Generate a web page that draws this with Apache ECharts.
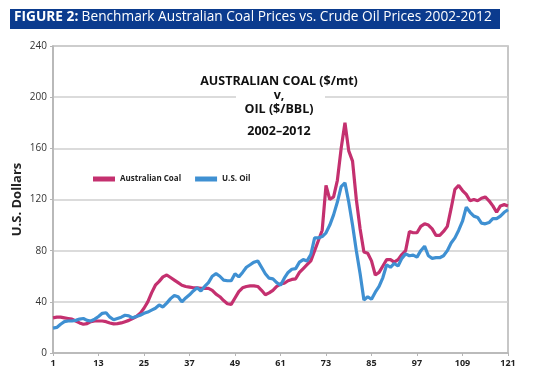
<!DOCTYPE html>
<html>
<head>
<meta charset="utf-8">
<script src="https://cdn.jsdelivr.net/npm/echarts@6/dist/echarts.min.js"></script>
<style>html,body{margin:0;padding:0;background:#fff;}#c{width:533px;height:383px;}</style>
</head>
<body>
<div id="c"></div>
<script>
var months = [];
for (var i = 1; i <= 121; i++) months.push(String(i));

var coal = [27.5,28,28,27.5,27,26.5,25,23.5,22.5,23,24.5,25,25,25,24.5,23.5,22.8,23,23.5,24.5,
25.5,27,28.5,31,35,40,47,53,56,59.5,61,59,57,55,53,52,51.5,51,51,50.5,
50.5,50.5,49,46,44,41,38.5,38,43,48,51,52,52.5,52.5,52,49,45.5,47,49,52,
54,54.5,56.5,57.5,58,63,66,69,72,80,88,96,131,120,122,135,160,180,158,150,
120,97,79,78,72,61,63,68,73,73,71,73,77,80,95,94,94,99,101,100,
97,92,92,95,99,113,128,131,127,124,119,120,119,121,122,119,115,110,115,116,115];

var oil = [19.5,20,22.5,24.5,25,25,25.5,26.5,27,25.5,25,26.5,28.5,31,31.5,28,26,27,28,29.5,
29,27.5,28.5,29.5,31,32,33.5,35,37.5,36,39,42.5,45,44,40,43,45.5,48.5,51,48.5,
52,55,60,62,60,57,56.5,56.5,62,59.5,63,67,69,71,72,67,62,58.5,58,55,
53,58.5,63,65.5,66,71,73,72,77,90,90,91,94,100,108,118,130,133,118,100,
80,62,41.5,44,42,47.5,52,59,69,67,70,68,74,77.5,76,76.5,75,80,83.5,76,
74,74.5,74.5,76,80,86,90,96,103,114,110,107,106,101.5,101,102,105,105,107,110,112];

var yTicks = [0, 40, 80, 120, 160, 200, 240];
var seriesNames = ['Australian Coal', 'U.S. Oil'];
var figTitle = 'Benchmark Australian Coal Prices vs. Crude Oil Prices 2002-2012';
var innerTitle = ['AUSTRALIAN COAL ($/mt)', 'v,', 'OIL ($/BBL)', '2002\u20132012'];

var FONT = 'Open Sans';
var chart = echarts.init(document.getElementById('c'), null, {renderer: 'canvas'});
chart.setOption({
  animation: false,
  backgroundColor: '#fff',
  grid: {left: 53, right: 25, top: 46, bottom: 30, outerBoundsMode: 'none', containLabel: false,
         show: true, borderColor: '#b5b5b5', borderWidth: 1.5, backgroundColor: 'transparent'},
  legend: {
    left: 88, top: 170, itemWidth: 22, itemHeight: 5, itemGap: 14,
    icon: 'rect',
    textStyle: {fontFamily: FONT, fontWeight: 'bold', fontSize: 8, color: '#222'},
    data: seriesNames
  },
  xAxis: {
    type: 'category', data: months, boundaryGap: false,
    axisLine: {lineStyle: {color: '#b5b5b5', width: 1.5}},
    axisTick: {interval: 11, length: 3, lineStyle: {color: '#b5b5b5'}},
    axisLabel: {interval: 11, fontFamily: FONT, fontWeight: 'bold', fontSize: 9, color: '#222', margin: 6},
    splitLine: {show: false}
  },
  yAxis: {
    type: 'value', min: yTicks[0], max: yTicks[yTicks.length - 1], interval: 40,
    name: 'U.S. Dollars', nameLocation: 'middle', nameGap: 29, nameMoveOverlap: false,
    nameTextStyle: {fontFamily: FONT, fontWeight: 'bold', fontSize: 13, color: '#222'},
    axisLine: {show: true, lineStyle: {color: '#b5b5b5', width: 1.5}},
    axisTick: {show: true, length: 3, lineStyle: {color: '#b5b5b5'}},
    axisLabel: {fontFamily: FONT, fontSize: 10, color: '#333', margin: 6},
    splitLine: {lineStyle: {color: '#cfcfcf', width: 1.5}}
  },
  series: [
    {name: seriesNames[0], type: 'line', data: coal, showSymbol: false, smooth: false, z: 3,
     lineStyle: {color: '#c4306f', width: 3.2}, itemStyle: {color: '#c4306f'}},
    {name: seriesNames[1], type: 'line', data: oil, showSymbol: false, smooth: false, z: 4,
     lineStyle: {color: '#3f90d2', width: 3.2}, itemStyle: {color: '#3f90d2'}}
  ],
  graphic: [
    {type: 'rect', left: 10, top: 9, shape: {width: 490, height: 20}, style: {fill: '#0b3b8e'}, z: 100},
    {type: 'text', left: 14, top: 10, z: 101, style: {
      text: '{b|FIGURE 2:} {n|' + figTitle + '}',
      rich: {
        b: {fontFamily: FONT, fontWeight: 'bold', fontSize: 13.7, fill: '#fff'},
        n: {fontFamily: FONT, fontSize: 13.7, fill: '#fff'}
      }
    }},
    {type: 'rect', left: 236, top: 90, shape: {width: 89, height: 14}, style: {fill: '#fff'}, z: 100},
    {type: 'text', x: 279, y: 74, z: 101, style: {
      text: innerTitle[0] + '\n' + innerTitle[1] + '\n' + innerTitle[2],
      align: 'center', verticalAlign: 'top', lineHeight: 14,
      fontFamily: FONT, fontWeight: 'bold', fontSize: 12.5, fill: '#111'
    }},
    {type: 'text', x: 279, y: 125, z: 101, style: {
      text: innerTitle[3], align: 'center', verticalAlign: 'top',
      fontFamily: FONT, fontWeight: 'bold', fontSize: 12.5, fill: '#111'
    }}
  ]
});
</script>
</body>
</html>
